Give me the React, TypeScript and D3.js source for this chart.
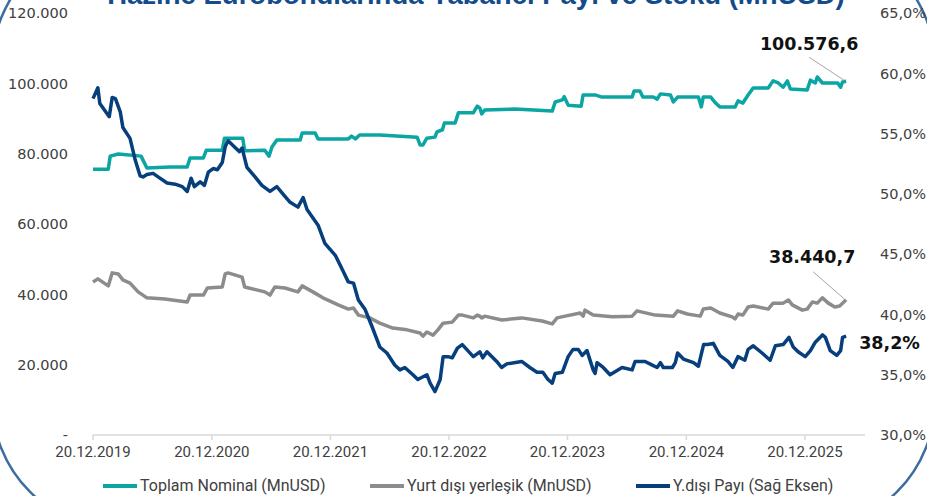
import * as d3 from 'd3';

const W = 927;
const H = 496;
const TEAL = '#0ba5a4';
const GRAY = '#8c8c8c';
const NAVY = '#073f7d';
const TEXT = '#404040';

const TITLE = 'Hazine Eurobondlarında Yabancı Payı ve Stoku (MnUSD)';

const LEFT_TICKS = [0, 20000, 40000, 60000, 80000, 100000, 120000];
const RIGHT_TICKS = [30, 35, 40, 45, 50, 55, 60, 65];
const X_TICKS = ['2019-12-20', '2020-12-20', '2021-12-20', '2022-12-20', '2023-12-20', '2024-12-20', '2025-12-20'];
const X_END = '2026-06-23';

const LEGEND = ['Toplam Nominal (MnUSD)', 'Yurt dışı yerleşik (MnUSD)', 'Y.dışı Payı (Sağ Eksen)'];

// Toplam Nominal (MnUSD)
const totalNominal: [string, number][] = [
  ['2019-12-20', 75600], ['2020-02-05', 75600], ['2020-02-11', 79300], ['2020-03-07', 79900],
  ['2020-05-16', 79300], ['2020-06-03', 75900], ['2020-08-13', 76200], ['2020-10-05', 76200],
  ['2020-10-14', 78800], ['2020-11-24', 78800], ['2020-12-03', 81000], ['2021-01-21', 81000],
  ['2021-01-28', 84400], ['2021-03-25', 84400], ['2021-03-31', 80800], ['2021-06-01', 81000],
  ['2021-06-14', 79300], ['2021-06-23', 81900], ['2021-07-08', 83900], ['2021-09-18', 83900],
  ['2021-09-24', 85900], ['2021-11-03', 85900], ['2021-11-12', 84200], ['2022-02-13', 84200],
  ['2022-02-23', 85000], ['2022-03-07', 84200], ['2022-03-20', 85300], ['2022-05-21', 85300],
  ['2022-09-13', 84700], ['2022-09-22', 82500], ['2022-10-01', 82500], ['2022-10-13', 84400],
  ['2022-11-07', 84700], ['2022-11-13', 86200], ['2022-11-30', 86800], ['2022-12-06', 88700],
  ['2023-01-08', 88700], ['2023-01-18', 91600], ['2023-03-05', 91600], ['2023-03-17', 93500],
  ['2023-03-25', 93000], ['2023-03-31', 91300], ['2023-04-09', 92400], ['2023-07-11', 92700],
  ['2023-11-03', 92100], ['2023-11-12', 94700], ['2023-12-04', 95300], ['2023-12-10', 96200],
  ['2023-12-22', 93800], ['2024-01-31', 93500], ['2024-02-06', 96700], ['2024-03-14', 96700],
  ['2024-04-04', 96100], ['2024-07-06', 96100], ['2024-07-12', 97800], ['2024-07-30', 97800],
  ['2024-08-08', 96100], ['2024-09-09', 96100], ['2024-09-21', 95500], ['2024-10-01', 97000],
  ['2024-11-01', 96700], ['2024-11-10', 94700], ['2024-11-23', 96100], ['2025-01-26', 96100],
  ['2025-02-04', 93300], ['2025-02-10', 96100], ['2025-03-05', 96100], ['2025-03-20', 94400],
  ['2025-04-02', 93300], ['2025-05-19', 93300], ['2025-05-28', 95000], ['2025-06-12', 94400],
  ['2025-06-28', 96700], ['2025-07-14', 98700], ['2025-08-29', 98700], ['2025-09-13', 100700],
  ['2025-09-29', 100100], ['2025-10-14', 98900], ['2025-10-27', 100700], ['2025-11-05', 98400],
  ['2025-12-27', 98100], ['2026-01-06', 100900], ['2026-01-21', 100100], ['2026-01-27', 101800],
  ['2026-02-12', 100100], ['2026-03-31', 100100], ['2026-04-09', 98900], ['2026-04-15', 100400],
  ['2026-04-26', 100576.6],
];

// Yurt dışı yerleşik (MnUSD)
const foreignHolding: [string, number][] = [
  ['2019-12-20', 43500], ['2020-01-04', 44400], ['2020-02-05', 42400], ['2020-02-17', 46100],
  ['2020-03-07', 45800], ['2020-03-21', 44100], ['2020-04-12', 43200], ['2020-05-07', 40700],
  ['2020-06-03', 39000], ['2020-07-28', 38700], ['2020-10-05', 37800], ['2020-10-14', 39800],
  ['2020-11-24', 39800], ['2020-12-06', 41800], ['2021-01-21', 42100], ['2021-01-30', 45800],
  ['2021-02-08', 46100], ['2021-03-23', 44900], ['2021-03-31', 42100], ['2021-06-01', 40700],
  ['2021-06-17', 39800], ['2021-07-02', 42100], ['2021-08-02', 41800], ['2021-09-11', 40700],
  ['2021-09-24', 42400], ['2021-10-27', 40700], ['2021-11-27', 39000], ['2022-01-13', 37000],
  ['2022-02-13', 35800], ['2022-03-01', 36100], ['2022-03-16', 34100], ['2022-04-20', 33300],
  ['2022-05-21', 31800], ['2022-06-30', 30400], ['2022-08-13', 29900], ['2022-09-22', 29000],
  ['2022-10-01', 28100], ['2022-10-13', 29300], ['2022-11-01', 28400], ['2022-11-16', 29900],
  ['2022-12-02', 31800], ['2022-12-30', 32100], ['2023-01-18', 34100], ['2023-01-30', 34100],
  ['2023-03-05', 33300], ['2023-03-17', 34100], ['2023-03-25', 33800], ['2023-03-31', 33300],
  ['2023-04-09', 33800], ['2023-06-01', 32700], ['2023-08-01', 33300], ['2023-10-03', 32400],
  ['2023-11-03', 31600], ['2023-11-18', 33300], ['2023-12-13', 33800], ['2024-01-28', 34700],
  ['2024-02-06', 33800], ['2024-02-12', 35500], ['2024-03-08', 34100], ['2024-05-06', 33600],
  ['2024-07-06', 33800], ['2024-07-21', 35300], ['2024-09-15', 34100], ['2024-11-10', 33800],
  ['2024-11-23', 35300], ['2024-12-23', 34400], ['2025-02-01', 33800], ['2025-02-10', 35800],
  ['2025-03-05', 36100], ['2025-04-02', 34700], ['2025-05-10', 33600], ['2025-05-19', 33000],
  ['2025-05-28', 34400], ['2025-06-12', 34100], ['2025-06-28', 36400], ['2025-07-14', 36700],
  ['2025-08-29', 35800], ['2025-09-13', 37500], ['2025-10-14', 37500], ['2025-10-30', 38400],
  ['2025-11-11', 37000], ['2025-12-12', 35500], ['2025-12-27', 35800], ['2026-01-12', 37800],
  ['2026-01-27', 37500], ['2026-02-12', 39000], ['2026-03-02', 37500], ['2026-03-22', 36400],
  ['2026-04-06', 36700], ['2026-04-26', 38440.7],
];

// Y.dışı Payı, % (right axis)
const foreignShare: [string, number][] = [
  ['2019-12-20', 57.9], ['2020-01-04', 58.8], ['2020-01-10', 57.5], ['2020-02-08', 56.4],
  ['2020-02-17', 58.0], ['2020-02-27', 57.9], ['2020-03-13', 56.8], ['2020-03-21', 55.5],
  ['2020-04-12', 54.6], ['2020-04-28', 52.8], ['2020-05-13', 51.5], ['2020-05-22', 51.4],
  ['2020-06-03', 51.6], ['2020-06-22', 51.7], ['2020-07-13', 51.3], ['2020-08-04', 50.9],
  ['2020-08-29', 50.8], ['2020-09-20', 50.6], ['2020-10-05', 50.2], ['2020-10-17', 51.3],
  ['2020-10-27', 50.6], ['2020-11-14', 51.0], ['2020-11-27', 50.7], ['2020-12-09', 51.8],
  ['2020-12-24', 52.1], ['2021-01-06', 52.0], ['2021-01-21', 52.6], ['2021-01-30', 53.9],
  ['2021-02-08', 54.4], ['2021-03-03', 53.8], ['2021-03-15', 53.5], ['2021-03-23', 53.8],
  ['2021-04-07', 52.2], ['2021-05-02', 51.4], ['2021-05-23', 50.7], ['2021-06-17', 50.2],
  ['2021-07-08', 50.6], ['2021-08-02', 49.8], ['2021-08-18', 49.3], ['2021-09-11', 48.9],
  ['2021-09-27', 49.7], ['2021-10-09', 48.7], ['2021-11-12', 47.4], ['2021-12-03', 45.9],
  ['2022-01-04', 44.9], ['2022-01-26', 43.7], ['2022-02-13', 42.7], ['2022-03-01', 42.6],
  ['2022-03-16', 41.2], ['2022-04-06', 40.4], ['2022-04-27', 39.0], ['2022-05-21', 37.3],
  ['2022-06-12', 36.8], ['2022-07-06', 35.8], ['2022-07-22', 35.4], ['2022-08-06', 35.6],
  ['2022-08-31', 35.0], ['2022-09-15', 34.6], ['2022-10-13', 35.0], ['2022-10-23', 34.3],
  ['2022-11-07', 33.6], ['2022-11-23', 34.6], ['2022-12-02', 36.5], ['2022-12-17', 36.5],
  ['2022-12-30', 36.4], ['2023-01-15', 37.2], ['2023-01-30', 37.5], ['2023-03-05', 36.5],
  ['2023-03-25', 36.9], ['2023-04-03', 36.4], ['2023-04-16', 36.9], ['2023-05-16', 36.1],
  ['2023-05-31', 35.6], ['2023-06-16', 35.9], ['2023-08-01', 36.1], ['2023-08-26', 35.6],
  ['2023-09-17', 35.2], ['2023-10-05', 35.2], ['2023-10-21', 34.6], ['2023-11-03', 34.3],
  ['2023-11-12', 35.1], ['2023-12-04', 35.2], ['2023-12-22', 36.5], ['2024-01-06', 37.1],
  ['2024-01-22', 37.1], ['2024-02-03', 36.6], ['2024-02-18', 37.0], ['2024-03-08', 35.4],
  ['2024-03-14', 35.1], ['2024-03-20', 36.0], ['2024-04-08', 35.6], ['2024-04-29', 35.0],
  ['2024-06-05', 35.6], ['2024-07-06', 35.4], ['2024-07-15', 36.1], ['2024-08-15', 36.1],
  ['2024-09-06', 35.8], ['2024-09-21', 35.6], ['2024-10-01', 36.0], ['2024-10-10', 35.6],
  ['2024-11-07', 35.6], ['2024-11-16', 36.0], ['2024-11-23', 36.8], ['2024-12-11', 36.3],
  ['2025-01-11', 36.0], ['2025-01-26', 35.7], ['2025-02-11', 37.5], ['2025-02-23', 37.5],
  ['2025-03-13', 37.6], ['2025-04-02', 36.6], ['2025-04-27', 36.1], ['2025-05-12', 35.6],
  ['2025-05-28', 36.5], ['2025-06-18', 36.2], ['2025-06-28', 37.1], ['2025-07-14', 37.4],
  ['2025-08-10', 36.8], ['2025-09-04', 36.2], ['2025-09-20', 37.4], ['2025-10-14', 37.5],
  ['2025-11-01', 38.1], ['2025-11-14', 37.3], ['2025-11-29', 36.9], ['2025-12-21', 36.5],
  ['2026-01-06', 37.0], ['2026-01-21', 37.7], ['2026-02-12', 38.3], ['2026-02-21', 38.1],
  ['2026-03-08', 37.0], ['2026-03-28', 36.6], ['2026-04-09', 37.0], ['2026-04-15', 38.1],
  ['2026-04-26', 38.2],
];

const parse = d3.timeParse('%Y-%m-%d');
const trLocale = d3.formatLocale({ decimal: ',', thousands: '.', grouping: [3], currency: ['', ''] });
const fmtInt = trLocale.format(',.0f');
const fmt1 = trLocale.format(',.1f');

const tickFont = '"DejaVu Sans", sans-serif';
const labelFont = 'Roboto, "Liberation Sans", sans-serif';

export default function App() {
  const x = d3.scaleTime()
    .domain([parse(X_TICKS[0]) as Date, parse(X_END) as Date])
    .range([93, 865]);
  const yL = d3.scaleLinear().domain([0, 120000]).range([435, 13]);
  const yR = d3.scaleLinear().domain([30, 65]).range([435, 13]);

  const lineL = d3.line<[string, number]>()
    .x(d => x(parse(d[0]) as Date))
    .y(d => yL(d[1]));
  const lineR = d3.line<[string, number]>()
    .x(d => x(parse(d[0]) as Date))
    .y(d => yR(d[1]));

  const lastT = totalNominal[totalNominal.length - 1];
  const lastG = foreignHolding[foreignHolding.length - 1];
  const lastN = foreignShare[foreignShare.length - 1];
  const tX = x(parse(lastT[0]) as Date), tY = yL(lastT[1]);
  const gX = x(parse(lastG[0]) as Date), gY = yL(lastG[1]);
  const nX = x(parse(lastN[0]) as Date), nY = yR(lastN[1]);

  const legendItems = [
    { label: LEGEND[0], color: TEAL, x: 103 },
    { label: LEGEND[1], color: GRAY, x: 370 },
    { label: LEGEND[2], color: NAVY, x: 636 },
  ];

  return (
    <svg width={W} height={H} style={{ position: 'fixed', left: 0, top: 0, background: '#fff' }}>
      <rect x={-8} y={-64} width={W + 16} height={594} rx={130} ry={130}
        fill="none" stroke="#3d6d9e" strokeWidth={2.5} />

      <text x={476} y={4} textAnchor="middle" fontFamily='"Liberation Sans", Arial, sans-serif'
        fontWeight="bold" fontSize={27.5} fill="#134b8b">{TITLE}</text>

      {/* left axis labels */}
      {LEFT_TICKS.map(v => (
        <text key={v} x={68} y={yL(v)} dy="0.36em" textAnchor="end"
          fontFamily={tickFont} fontSize={14.5} fill={TEXT}>
          {v === 0 ? '-' : fmtInt(v)}
        </text>
      ))}

      {/* right axis labels */}
      {RIGHT_TICKS.map(v => (
        <text key={v} x={880} y={yR(v)} dy="0.36em" textAnchor="start"
          fontFamily={tickFont} fontSize={14.5} fill={TEXT}>
          {fmt1(v)}%
        </text>
      ))}

      {/* x axis */}
      <line x1={93} x2={865} y1={435} y2={435} stroke="#d9d9d9" strokeWidth={1.5} />
      {X_TICKS.map(t => {
        const d = parse(t) as Date;
        const px = x(d);
        return (
          <g key={t}>
            <line x1={px} x2={px} y1={435} y2={440} stroke="#d9d9d9" strokeWidth={1.5} />
            <text x={px} y={457} textAnchor="middle" fontFamily={labelFont} fontSize={15} fill={TEXT}>
              {d3.timeFormat('%d.%m.%Y')(d)}
            </text>
          </g>
        );
      })}

      {/* series */}
      <path d={lineL(totalNominal) ?? ''} fill="none" stroke={TEAL} strokeWidth={3.5} strokeLinejoin="round" />
      <path d={lineL(foreignHolding) ?? ''} fill="none" stroke={GRAY} strokeWidth={3.5} strokeLinejoin="round" />
      <path d={lineR(foreignShare) ?? ''} fill="none" stroke={NAVY} strokeWidth={3.5} strokeLinejoin="round" />

      {/* end labels */}
      <line x1={tX - 37} y1={tY - 24} x2={tX - 2} y2={tY - 1} stroke="#a6a6a6" strokeWidth={1} />
      <text x={tX - 37} y={tY - 31} textAnchor="middle" fontFamily={tickFont} fontWeight="bold"
        fontSize={17.5} fill="#111">{fmt1(lastT[1])}</text>
      <line x1={gX - 33} y1={gY - 28} x2={gX - 2} y2={gY - 1} stroke="#a6a6a6" strokeWidth={1} />
      <text x={gX - 34} y={gY - 37} textAnchor="middle" fontFamily={tickFont} fontWeight="bold"
        fontSize={17.5} fill="#111">{fmt1(lastG[1])}</text>
      <text x={nX + 13} y={nY + 13} textAnchor="start" fontFamily={tickFont} fontWeight="bold"
        fontSize={17.5} fill="#111">{fmt1(lastN[1])}%</text>

      {/* legend */}
      {legendItems.map(it => (
        <g key={it.label}>
          <line x1={it.x} x2={it.x + 34} y1={486} y2={486} stroke={it.color} strokeWidth={4} />
          <text x={it.x + 37} y={491} fontFamily={labelFont} fontSize={16} fill={TEXT}>{it.label}</text>
        </g>
      ))}
    </svg>
  );
}
